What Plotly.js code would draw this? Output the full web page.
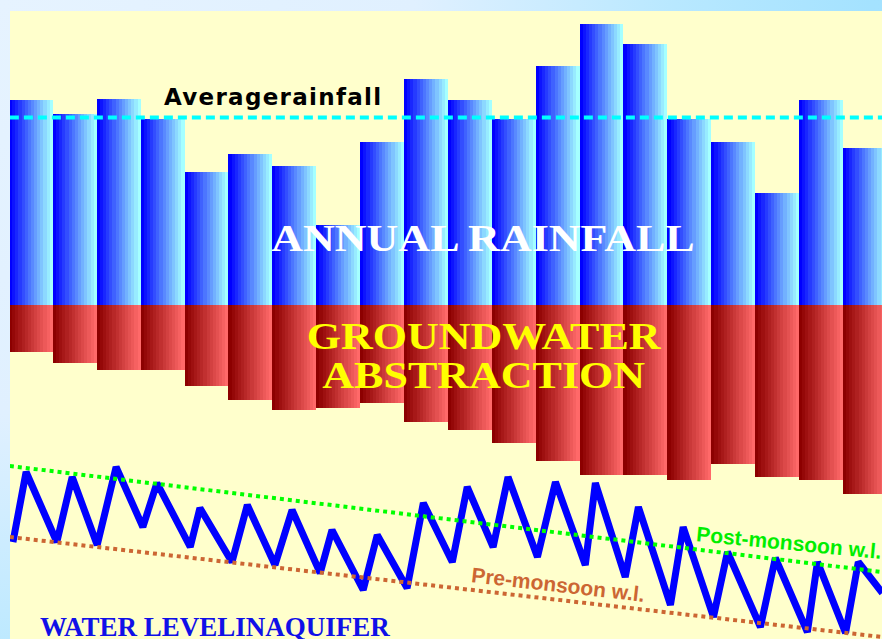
<!DOCTYPE html>
<html>
<head>
<meta charset="utf-8">
<script src="https://cdn.plot.ly/plotly-3.0.1.min.js"></script>
<style>
html,body{margin:0;padding:0;}
body{width:882px;height:639px;overflow:hidden;
  background: radial-gradient(circle farthest-corner at 0 0, #E6F3FF 0%, #E0F0FF 38%, #B8E8FF 62%, #A4E2FF 80%, #A0E0FF 100%);}
#chart{width:882px;height:639px;}
</style>
</head>
<body>
<div id="chart"></div>
<script>
// ---- data ----
const yearIndex = [0,1,2,3,4,5,6,7,8,9,10,11,12,13,14,15,16,17,18,19];
const rainfall = [1025, 955, 1030, 930, 665, 755, 695, 400, 815, 1130, 1025, 930, 1195, 1405, 1305, 930, 815, 560, 1025, 785];
const abstraction = [235, 290, 325, 325, 405, 475, 525, 515, 490, 585, 625, 690, 780, 850, 850, 875, 795, 860, 875, 945];
const averageRainfall = 935;

// water level (seasonal: pre-/post-monsoon alternating)
const wlTime = [-0.41,-0.11,0.59,0.94,1.51,1.94,2.55,2.87,3.63,3.85,
                4.58,4.93,5.56,5.95,6.59,6.86,7.57,7.89,8.57,8.94,
                9.60,9.94,10.53,10.87,11.54,11.95,12.63,12.86,13.54,13.84,
                14.57,14.86,15.55,15.87,16.62,16.96,17.69,17.92,18.56,18.85,
                19.40];
const wlLevel = [9.7,16.7,9.7,16.2,9.4,17.2,11.2,15.6,9.2,13.1,
                 7.7,13.4,7.4,12.9,6.6,10.9,4.9,10.4,5.1,13.6,
                 7.7,15.2,9.2,16.2,8.2,15.7,7.4,15.6,6.2,13.2,
                 3.4,11.2,2.2,8.7,1.2,8.1,0.7,7.7,0.6,7.7,
                 4.6];
const trendTime = [-0.48, 19.39];
const postMonsoonTrend = [17.3, 6.7];
const preMonsoonTrend = [10.2, 0.2];

// ---- styling helpers ----
const N = 14;
function lerp(a, b, t){ return a.map((v,i)=>Math.round(v + (b[i]-v)*t)); }
function rgb(c){ return 'rgb(' + c.join(',') + ')'; }
const blueL = [0,0,255], blueR = [165,255,255];
const redL = [140,0,0], redR = [255,105,105];

const traces = [];
for (let k = 0; k < N; k++) {
  const t = k/(N-1);
  traces.push({
    type:'bar', x: yearIndex, y: rainfall,
    width: 1/N, offset: -0.5 + k/N,
    marker:{color: rgb(lerp(blueL, blueR, t)), line:{width:0}},
    hoverinfo:'skip', showlegend:false
  });
}
for (let k = 0; k < N; k++) {
  const t = k/(N-1);
  traces.push({
    type:'bar', x: yearIndex, y: abstraction.map(v => -v),
    width: 1/N, offset: -0.5 + k/N,
    marker:{color: rgb(lerp(redL, redR, t)), line:{width:0}},
    hoverinfo:'skip', showlegend:false
  });
}
// average rainfall line
traces.push({
  type:'scatter', mode:'lines',
  x: trendTime, y: trendTime.map(() => averageRainfall),
  line:{color:'#00FFFF', width:4, dash:'9px,5px'},
  hoverinfo:'skip', showlegend:false
});
// water level
traces.push({
  type:'scatter', mode:'lines', x: wlTime, y: wlLevel, yaxis:'y2',
  line:{color:'#0000FF', width:7},
  hoverinfo:'skip', showlegend:false
});
traces.push({
  type:'scatter', mode:'lines', x: trendTime, y: postMonsoonTrend, yaxis:'y2',
  line:{color:'#00FF00', width:4, dash:'dot'},
  hoverinfo:'skip', showlegend:false
});
traces.push({
  type:'scatter', mode:'lines', x: trendTime, y: preMonsoonTrend, yaxis:'y2',
  line:{color:'#CC6633', width:4, dash:'dot'},
  hoverinfo:'skip', showlegend:false
});

const serif = 'Liberation Serif, Times New Roman, serif';
const layout = {
  width: 882, height: 639,
  margin: {l:10, r:0, t:11, b:0, pad:0},
  paper_bgcolor: 'rgba(0,0,0,0)',
  plot_bgcolor: '#FFFFCC',
  barmode: 'overlay', bargap: 0, bargroupgap: 0,
  showlegend: false,
  xaxis: {range:[-0.477, 19.39], showgrid:false, zeroline:false, showticklabels:false, ticks:'', showline:false, fixedrange:true},
  yaxis: {range:[-1672.5, 1467.5], showgrid:false, showticklabels:false, ticks:'', showline:false,
          zeroline:true, zerolinecolor:'#FFFFFF', zerolinewidth:2, layer:'above traces', fixedrange:true},
  yaxis2: {range:[0, 62.8], overlaying:'y', side:'right', showgrid:false, zeroline:false, showticklabels:false, ticks:'', showline:false, fixedrange:true},
  annotations: [
    {xref:'paper', yref:'paper', x:0.1745, y:0.8623, xanchor:'left', yanchor:'middle', showarrow:false,
     text:'<b><span style="letter-spacing:1.3px">Averagerainfall</span></b>',
     font:{family:'DejaVu Sans, Verdana, sans-serif', size:23, color:'#000000'}},
    {xref:'paper', yref:'paper', x:0.5424, y:0.6385, xanchor:'center', yanchor:'middle', showarrow:false,
     text:'<b>ANNUAL RAINFALL</b>',
     font:{family:serif, size:37, color:'#FFFFFF'}},
    {xref:'paper', yref:'paper', x:0.5441, y:0.4809, xanchor:'center', yanchor:'middle', showarrow:false,
     text:'<b>GROUNDWATER</b>',
     font:{family:serif, size:37, color:'#FFFF00'}},
    {xref:'paper', yref:'paper', x:0.5436, y:0.4188, xanchor:'center', yanchor:'middle', showarrow:false,
     text:'<b>ABSTRACTION</b>',
     font:{family:serif, size:37, color:'#FFFF00'}},
    {xref:'paper', yref:'paper', x:0.0321, y:0.0195, xanchor:'left', yanchor:'middle', showarrow:false,
     text:'<b>WATER LEVELINAQUIFER</b>',
     font:{family:serif, size:27, color:'#1010E8'}},
    {xref:'paper', yref:'paper', x:0.8933, y:0.1529, xanchor:'center', yanchor:'middle', showarrow:false,
     textangle:5.5, text:'<b>Post-monsoon w.l.</b>',
     font:{family:'Liberation Sans, Arial, sans-serif', size:21, color:'#00EE00'}},
    {xref:'paper', yref:'paper', x:0.6284, y:0.086, xanchor:'center', yanchor:'middle', showarrow:false,
     textangle:6.5, text:'<b>Pre-monsoon w.l.</b>',
     font:{family:'Liberation Sans, Arial, sans-serif', size:21, color:'#CC6633'}}
  ]
};

Plotly.newPlot('chart', traces, layout, {staticPlot:true, displayModeBar:false}).then(function(){
  // the original slide's serif captions are horizontally stretched
  document.querySelectorAll('.annotation-text').forEach(function(el){
    if (/ANNUAL|GROUNDWATER|ABSTRACTION/.test(el.textContent)) {
      el.style.transformBox = 'fill-box';
      el.style.transformOrigin = 'center';
      el.style.transform = 'scaleX(1.19)';
    }
  });
});
</script>
</body>
</html>
